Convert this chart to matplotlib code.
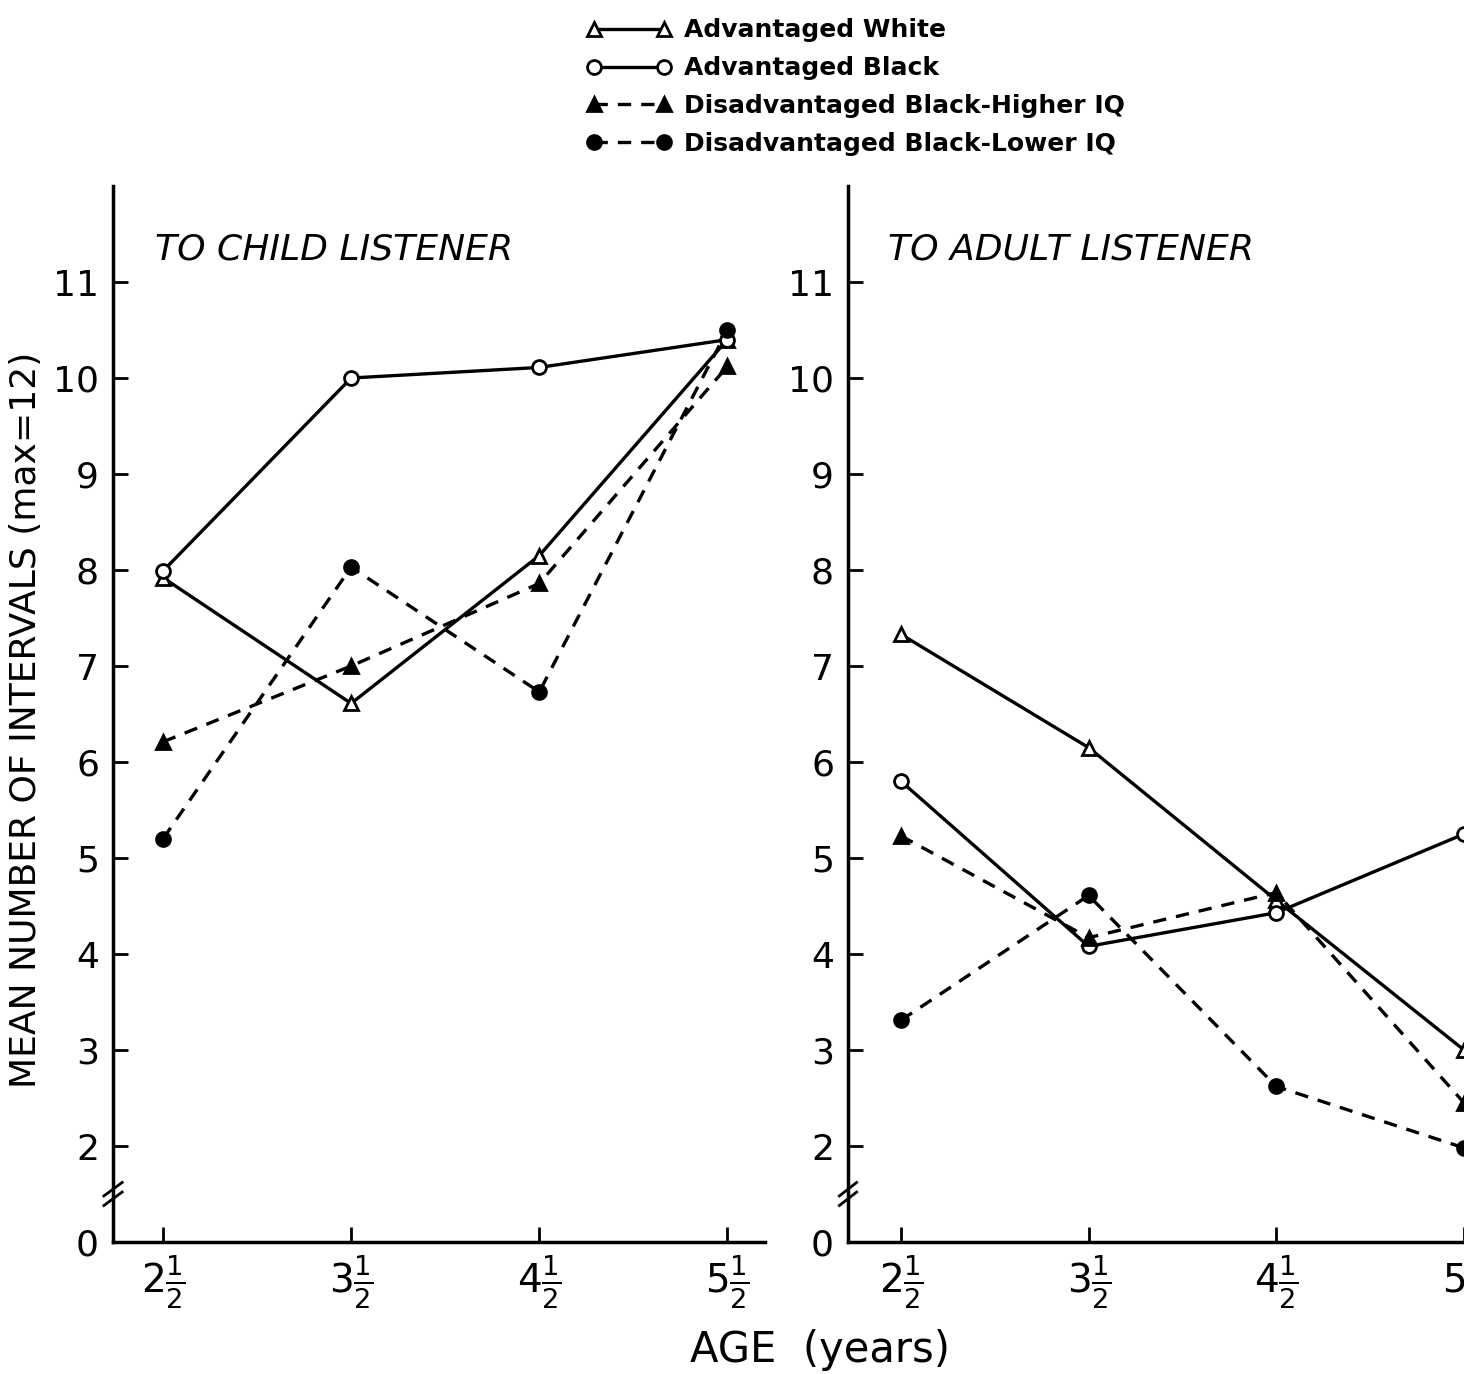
import numpy as np
import matplotlib
matplotlib.use('Agg')
import matplotlib.pyplot as plt
import matplotlib.transforms as mtransforms

plt.rcParams['font.family'] = ['DejaVu Sans']
plt.rcParams['mathtext.fontset'] = 'dejavusans'

# ages (years) and tick labels
ages = [2.5, 3.5, 4.5, 5.5]
age_labels = [r'$2\frac{1}{2}$', r'$3\frac{1}{2}$', r'$4\frac{1}{2}$', r'$5\frac{1}{2}$']
y_ticks = [2, 3, 4, 5, 6, 7, 8, 9, 10, 11]

series_names = ['Advantaged White', 'Advantaged Black',
                'Disadvantaged Black-Higher IQ', 'Disadvantaged Black-Lower IQ']

# to child listener
child_white = [7.92, 6.61, 8.15, 10.4]
child_black = [7.99, 10.0, 10.11, 10.4]
child_high = [6.21, 7.0, 7.86, 10.12]
child_low = [5.2, 8.03, 6.73, 10.5]

# to adult listener
adult_white = [7.33, 6.15, 4.56, 3.0]
adult_black = [5.8, 4.08, 4.43, 5.25]
adult_high = [5.23, 4.17, 4.64, 2.45]
adult_low = [3.31, 4.61, 2.62, 1.98]

styles = [
    dict(ls='-', marker='^', mfc='white'),
    dict(ls='-', marker='o', mfc='white'),
    dict(ls=(0, (4, 3)), marker='^', mfc='black'),
    dict(ls=(0, (4, 3)), marker='o', mfc='black'),
]

W, H = 1464, 1374
fig = plt.figure(figsize=(W / 100, H / 100), dpi=100)

ax1 = fig.add_axes([113 / W, 1 - 1242 / H, (765 - 113) / W, (1242 - 186) / H])
ax2 = fig.add_axes([848 / W, 1 - 1242 / H, (W - 848) / W, (1242 - 186) / H])


def panel(ax, data, title, xlim):
    for vals, st, name in zip(data, styles, series_names):
        ax.plot(ages, vals, color='black', lw=2.4, linestyle=st['ls'],
                marker=st['marker'], markersize=10, markerfacecolor=st['mfc'],
                markeredgecolor='black', markeredgewidth=2, label=name)
    ax.set_xlim(*xlim)
    ax.set_ylim(1.0, 12.0)
    ax.set_yticks(y_ticks + [1.0])
    ax.set_yticklabels([str(t) for t in y_ticks] + ['0'])
    ax.set_xticks(ages)
    ax.set_xticklabels(age_labels)
    ax.tick_params(axis='both', direction='in', length=11, width=2, labelsize=26, pad=10)
    ax.tick_params(axis='x', pad=8, labelsize=28)
    # no tick mark at the 0 corner
    ax.yaxis.get_major_ticks()[-1].tick1line.set_visible(False)
    for s in ['top', 'right']:
        ax.spines[s].set_visible(False)
    for s in ['left', 'bottom']:
        ax.spines[s].set_linewidth(2.5)
    ax.text(0.065, 0.94, title, transform=ax.transAxes, fontsize=26,
            style='italic', ha='left', va='center')
    # axis break marks
    tr = mtransforms.blended_transform_factory(ax.transAxes, ax.transData)
    for dy in (0.0, 0.1):
        ax.plot([-0.014, 0.014], [1.38 + dy, 1.52 + dy], color='black', lw=2,
                transform=tr, clip_on=False)


panel(ax1, [child_white, child_black, child_high, child_low],
      'TO CHILD LISTENER', (2.234, 5.70))
panel(ax2, [adult_white, adult_black, adult_high, adult_low],
      'TO ADULT LISTENER', (2.218, 5.435))

fig.text(26 / W, 1 - 720 / H, 'MEAN NUMBER OF INTERVALS (max=12)', fontsize=26,
         rotation=90, ha='center', va='center')
fig.text(820 / W, 1 - 1350 / H, 'AGE  (years)', fontsize=30, ha='center', va='center')

handles, labels = ax1.get_legend_handles_labels()
fig.legend(handles, labels, loc='upper left', bbox_to_anchor=(574 / W, 1 - 6 / H),
           frameon=False, prop={'weight': 'bold', 'size': 18},
           handlelength=3.4, handletextpad=0.5, labelspacing=0.55, numpoints=2,
           borderpad=0)

fig.savefig('out.png', dpi=100)
